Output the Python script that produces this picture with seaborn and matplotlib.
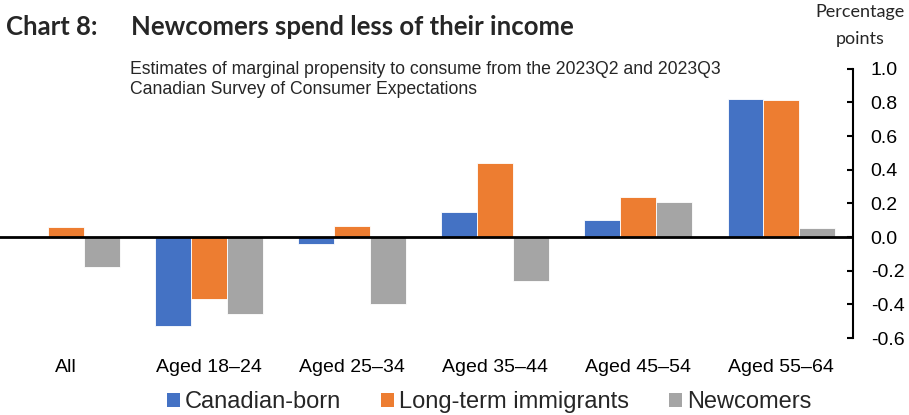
import matplotlib
matplotlib.use("Agg")
import matplotlib.pyplot as plt
import seaborn as sns
import pandas as pd
from matplotlib.patches import Patch

categories = ["All", "Aged 18–24", "Aged 25–34", "Aged 35–44", "Aged 45–54", "Aged 55–64"]
series_names = ["Canadian-born", "Long-term immigrants", "Newcomers"]
canadian_born = [0.0, -0.53, -0.04, 0.15, 0.10, 0.82]
long_term_immigrants = [0.06, -0.37, 0.065, 0.44, 0.235, 0.815]
newcomers = [-0.18, -0.46, -0.40, -0.26, 0.21, 0.055]
y_ticks = [-0.6, -0.4, -0.2, 0.0, 0.2, 0.4, 0.6, 0.8, 1.0]
colors = ["#4472C4", "#ED7D31", "#A5A5A5"]

rows = []
for name, vals in zip(series_names, [canadian_born, long_term_immigrants, newcomers]):
    for c, v in zip(categories, vals):
        rows.append({"category": c, "series": name, "value": v})
df = pd.DataFrame(rows)

sns.set_style("white")
plt.rcParams["font.family"] = ["Liberation Sans", "DejaVu Sans"]
plt.rcParams["axes.unicode_minus"] = False

fig = plt.figure(figsize=(9.09, 4.15), dpi=100)
ax = fig.add_axes([-0.006, 0.1855, 0.944, 0.649])

sns.barplot(data=df, x="category", y="value", hue="series", order=categories,
            hue_order=series_names, palette=colors, saturation=1, width=0.75, ax=ax,
            edgecolor="white", linewidth=0.6, legend=False, errorbar=None)

ax.axhline(0, color="black", linewidth=2, zorder=5)
ax.set_ylim(-0.6, 1.0)
ax.set_xlim(-0.5, len(categories) - 0.5)
ax.set_yticks(y_ticks)
ax.set_yticklabels([f"{t:.1f}" for t in y_ticks])
ax.yaxis.tick_right()
ax.set_xlabel("")
ax.set_ylabel("")
for s in ["left", "top", "bottom"]:
    ax.spines[s].set_visible(False)
ax.spines["right"].set_visible(True)
ax.spines["right"].set_color("black")
ax.spines["right"].set_linewidth(1.5)
ax.tick_params(axis="y", direction="in", length=4, width=1.5, color="black",
               labelsize=14, pad=13, right=True, left=False, labelcolor="black")
ax.tick_params(axis="x", length=0, labelsize=14, pad=15, labelcolor="black")

fig.text(6 / 909, 1 - 35 / 415, "Chart 8:", fontsize=18.5, fontweight="bold",
         family=["Lato", "DejaVu Sans"], va="baseline", ha="left")
fig.text(131 / 909, 1 - 35 / 415, "Newcomers spend less of their income", fontsize=18.5,
         fontweight="bold", family=["Lato", "DejaVu Sans"], va="baseline", ha="left")
fig.text(130 / 909, 1 - 69 / 415, "Estimates of marginal propensity to consume from the 2023Q2 and 2023Q3",
         fontsize=12.7, va="center", ha="left")
fig.text(130 / 909, 1 - 89 / 415, "Canadian Survey of Consumer Expectations",
         fontsize=12.7, va="center", ha="left")
fig.text(860 / 909, 1 - 12 / 415, "Percentage", fontsize=13,
         family=["Lato", "DejaVu Sans"], va="center", ha="center")
fig.text(860 / 909, 1 - 39 / 415, "points", fontsize=13,
         family=["Lato", "DejaVu Sans"], va="center", ha="center")

handles = [Patch(facecolor=c, edgecolor="none") for c in colors]
fig.legend(handles, series_names, loc="center", bbox_to_anchor=(489 / 909, 1 - 402 / 415),
           ncol=3, frameon=False, fontsize=17, handlelength=0.55, handleheight=0.55,
           handletextpad=0.2, columnspacing=1.7, borderpad=0, borderaxespad=0)

fig.savefig("out.png", dpi=100)
